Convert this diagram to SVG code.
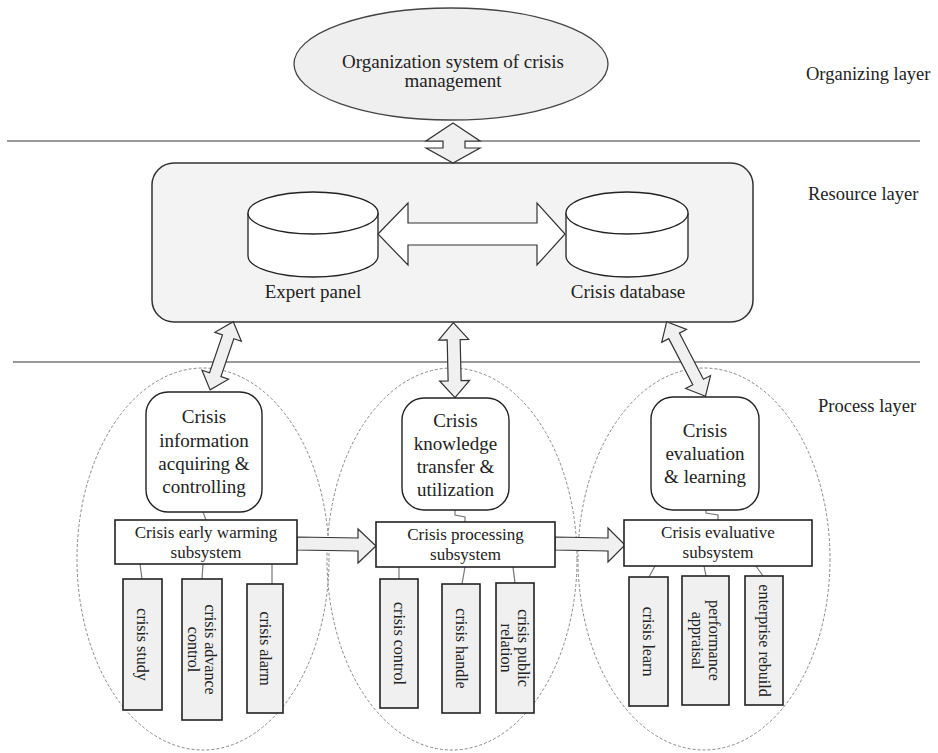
<svg xmlns="http://www.w3.org/2000/svg" width="938" height="753" viewBox="0 0 938 753">
<style>
text{font-family:"Liberation Serif","Times New Roman",serif;fill:#222}
.lbl{font-size:18.5px}
.big{font-size:19px;text-anchor:middle}
.sub{font-size:17px;text-anchor:middle}
.sm{font-size:16px;text-anchor:middle}
.sep{stroke:#777;stroke-width:1.6}
.grp{fill:none;stroke:#888;stroke-width:1;stroke-dasharray:3 2}
.rb{fill:#fff;stroke:#222;stroke-width:1.4}
.box{fill:#fff;stroke:#222;stroke-width:1.6}
.leaf{fill:#f0f0f0;stroke:#222;stroke-width:1.6}
.cyl{fill:#fff;stroke:#222;stroke-width:1.3}
.arr{fill:#f0f0f0;stroke:#333;stroke-width:1.2;stroke-linejoin:miter}
.arrw{fill:#fff;stroke:#333;stroke-width:1.2}
.ln{fill:none;stroke:#777;stroke-width:1.2}
</style>

<g id="layers">
<line class="sep" x1="7" y1="141" x2="920" y2="141"/>
<line class="sep" x1="13" y1="362" x2="920" y2="362"/>
<text class="lbl" x="806" y="80">Organizing layer</text>
<text class="lbl" x="808" y="200">Resource layer</text>
<text class="lbl" x="818" y="412">Process layer</text>
</g>

<g id="organization">
<ellipse cx="451" cy="64" rx="157" ry="56" fill="#efefef" stroke="#444" stroke-width="1.3"/>
<text class="big" x="453" y="68">Organization system of crisis</text>
<text class="big" x="453" y="87">management</text>
</g>

<g id="resource">
<rect x="152" y="163" width="601" height="159" rx="22" fill="#f3f3f3" stroke="#333" stroke-width="1.5"/>
</g>

<g id="expert-panel">
<path class="cyl" d="M248,213 L248,256 A65,21 0 0 0 378,256 L378,213"/>
<ellipse class="cyl" cx="313" cy="213" rx="65" ry="21"/>
<text class="big" x="313" y="298">Expert panel</text>
</g>

<g id="crisis-database">
<path class="cyl" d="M566,213 L566,256 A61,21 0 0 0 688,256 L688,213"/>
<ellipse class="cyl" cx="627" cy="213" rx="61" ry="21"/>
<text class="big" x="628" y="298">Crisis database</text>
</g>

<g id="groups">
<ellipse class="grp" cx="203" cy="559" rx="126" ry="191"/>
<ellipse class="grp" cx="452" cy="559" rx="125" ry="191"/>
<ellipse class="grp" cx="704" cy="559" rx="126" ry="191"/>
</g>

<g id="connectors">
<path class="arr" d="M453,123 L480,141 L465,141 L465,148 L480,148 L453,163 L426,148 L443,148 L443,141 L426,141 Z"/>
<path class="arrw" d="M378,234 L408,203 L408,223 L537,223 L537,203 L565,234 L537,265 L537,245 L408,245 L408,265 Z"/>
<path class="arr" transform="translate(233.3,321.7) rotate(18.8)" d="M0,0 L14,16 L6,16 L6,56 L14,56 L0,72 L-14,56 L-6,56 L-6,16 L-14,16 Z"/>
<path class="arr" transform="translate(453.3,322.7) rotate(-1.3)" d="M0,0 L15,17 L6.5,17 L6.5,58 L15,58 L0,75 L-15,58 L-6.5,58 L-6.5,17 L-15,17 Z"/>
<path class="arr" transform="translate(666.7,321.7) rotate(-27.5)" d="M0,0 L14,16 L6,16 L6,68 L14,68 L0,84 L-14,68 L-6,68 L-6,16 L-14,16 Z"/>
<path class="arr" d="M297,537 L358,538 L358,529 L376,546 L358,563 L358,551 L297,550 Z"/>
<path class="arr" d="M555,537 L608,538 L608,528 L625,545 L608,562 L608,551 L555,550 Z"/>
<polyline class="ln" points="203,512 206,520"/>
<polyline class="ln" points="455,510 455,515 465,517 465,522"/>
<polyline class="ln" points="706,510 706,513 718,515 718,520"/>
<line class="ln" x1="140" y1="564" x2="142" y2="579"/>
<line class="ln" x1="203" y1="564" x2="202" y2="579"/>
<line class="ln" x1="272" y1="564" x2="272" y2="584"/>
<line class="ln" x1="399" y1="567" x2="399" y2="579"/>
<line class="ln" x1="465" y1="567" x2="462" y2="584"/>
<line class="ln" x1="513" y1="567" x2="515" y2="583"/>
<line class="ln" x1="655" y1="566" x2="649" y2="577"/>
<line class="ln" x1="704" y1="566" x2="706" y2="576"/>
<line class="ln" x1="756" y1="566" x2="763" y2="576"/>
</g>

<g id="info-acquiring">
<rect class="rb" x="146" y="392" width="116" height="120" rx="22"/>
<text class="big" x="204" y="423">Crisis</text>
<text class="big" x="204" y="447">information</text>
<text class="big" x="204" y="470">acquiring &amp;</text>
<text class="big" x="204" y="493">controlling</text>
</g>

<g id="knowledge-transfer">
<rect class="rb" x="402" y="398" width="107" height="112" rx="22"/>
<text class="big" x="455.5" y="427">Crisis</text>
<text class="big" x="455.5" y="450">knowledge</text>
<text class="big" x="455.5" y="473">transfer &amp;</text>
<text class="big" x="455.5" y="496">utilization</text>
</g>

<g id="evaluation-learning">
<rect class="rb" x="651" y="397" width="108" height="113" rx="22"/>
<text class="big" x="705" y="437">Crisis</text>
<text class="big" x="705" y="460">evaluation</text>
<text class="big" x="705" y="483">&amp; learning</text>
</g>

<g id="early-warning">
<rect class="box" x="115" y="520" width="182" height="44"/>
<text class="sub" x="206" y="538">Crisis early warming</text>
<text class="sub" x="206" y="558">subsystem</text>
</g>

<g id="processing">
<rect class="box" x="376" y="522" width="179" height="45"/>
<text class="sub" x="465.5" y="540">Crisis processing</text>
<text class="sub" x="465.5" y="560">subsystem</text>
</g>

<g id="evaluative">
<rect class="box" x="624" y="520" width="188" height="46"/>
<text class="sub" x="718" y="538">Crisis evaluative</text>
<text class="sub" x="718" y="558">subsystem</text>
</g>

<g id="crisis-study">
<rect class="leaf" x="123" y="579" width="39" height="131"/>
<text class="sm" transform="translate(142.5,644.5) rotate(90)" y="5.5">crisis study</text>
</g>
<g id="crisis-advance-control">
<rect class="leaf" x="182" y="579" width="40" height="141"/>
<text class="sm" transform="translate(202,649.5) rotate(90)" y="-3">crisis advance</text>
<text class="sm" transform="translate(202,649.5) rotate(90)" y="14">control</text>
</g>
<g id="crisis-alarm">
<rect class="leaf" x="247" y="584" width="36" height="129"/>
<text class="sm" transform="translate(265,648.5) rotate(90)" y="5.5">crisis alarm</text>
</g>

<g id="crisis-control">
<rect class="leaf" x="380" y="579" width="38" height="129"/>
<text class="sm" transform="translate(399,643.5) rotate(90)" y="5.5">crisis control</text>
</g>
<g id="crisis-handle">
<rect class="leaf" x="442" y="584" width="38" height="129"/>
<text class="sm" transform="translate(461,648.5) rotate(90)" y="5.5">crisis handle</text>
</g>
<g id="crisis-public-relation">
<rect class="leaf" x="496" y="583" width="38" height="130"/>
<text class="sm" transform="translate(515,648) rotate(90)" y="-3">crisis public</text>
<text class="sm" transform="translate(515,648) rotate(90)" y="14">relation</text>
</g>

<g id="crisis-learn">
<rect class="leaf" x="629" y="577" width="39" height="129"/>
<text class="sm" transform="translate(648.5,641.5) rotate(90)" y="5.5">crisis learn</text>
</g>
<g id="performance-appraisal">
<rect class="leaf" x="682" y="576" width="47" height="129"/>
<text class="sm" transform="translate(705.5,640.5) rotate(90)" y="-3">performance</text>
<text class="sm" transform="translate(705.5,640.5) rotate(90)" y="14">appraisal</text>
</g>
<g id="enterprise-rebuild">
<rect class="leaf" x="745" y="576" width="38" height="129"/>
<text class="sm" transform="translate(764,640.5) rotate(90)" y="5.5">enterprise rebuild</text>
</g>
</svg>
